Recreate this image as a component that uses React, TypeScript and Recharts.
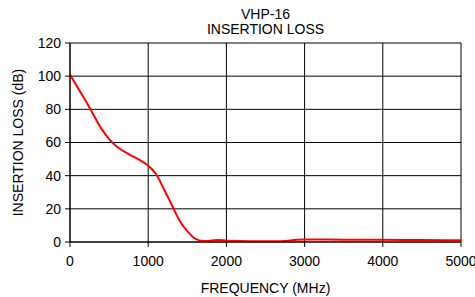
import React from "react";
import { LineChart, Line, XAxis, YAxis, CartesianGrid, Label } from "recharts";

const frequencies = [0, 100, 250, 400, 500, 600, 750, 900, 1000, 1100, 1200, 1300, 1400, 1500, 1600, 1700, 1800, 1900, 2000, 2300, 2700, 2900, 3000, 3500, 4000, 4500, 5000];
const insertionLoss = [101, 93, 81, 68.5, 62, 57.5, 53, 49.2, 46, 41, 32, 22.5, 13, 6.5, 2, 0.6, 0.8, 1.2, 0.8, 0.5, 0.5, 1.3, 1.5, 1.4, 1.3, 1.2, 1.0];
const xTicks = [0, 1000, 2000, 3000, 4000, 5000];
const yTicks = [0, 20, 40, 60, 80, 100, 120];
const titleLines = ["VHP-16", "INSERTION LOSS"];

const data = frequencies.map((f, i) => ({ f, v: insertionLoss[i] }));

const font = "'Liberation Sans', Arial, sans-serif";

export default function App() {
  return (
    <div style={{ position: "absolute", left: 0, top: 0, width: 475, height: 297, background: "#fff", fontFamily: font }}>
      <div style={{ position: "absolute", left: 70, width: 391, top: 7, textAlign: "center", fontSize: 14, lineHeight: "15px", color: "#000" }}>
        {titleLines.map((t) => (
          <div key={t}>{t}</div>
        ))}
      </div>
      <LineChart width={475} height={297} data={data} margin={{ top: 43, right: 14, left: 0, bottom: 0 }} style={{ fontFamily: font }}>
        <CartesianGrid stroke="#000" strokeWidth={1} horizontal vertical />
        <XAxis
          dataKey="f"
          type="number"
          domain={[0, 5000]}
          ticks={xTicks}
          height={55}
          stroke="#000"
          tickSize={5}
          tick={{ fill: "#000", fontSize: 14 }}
          tickMargin={9}
        >
          <Label value="FREQUENCY (MHz)" position="insideBottom" offset={4} style={{ fill: "#000", fontSize: 14 }} />
        </XAxis>
        <YAxis
          type="number"
          domain={[0, 120]}
          ticks={yTicks}
          width={70}
          stroke="#000"
          tickSize={5}
          tickMargin={4}
          tick={{ fill: "#000", fontSize: 14 }}
          interval={0}
        >
          <Label value="INSERTION LOSS (dB)" angle={-90} position="insideLeft" offset={18} style={{ fill: "#000", fontSize: 14, textAnchor: "middle" }} />
        </YAxis>
        <Line dataKey="v" type="monotone" stroke="#ff0000" strokeWidth={2} dot={false} isAnimationActive={false} />
      </LineChart>
    </div>
  );
}
